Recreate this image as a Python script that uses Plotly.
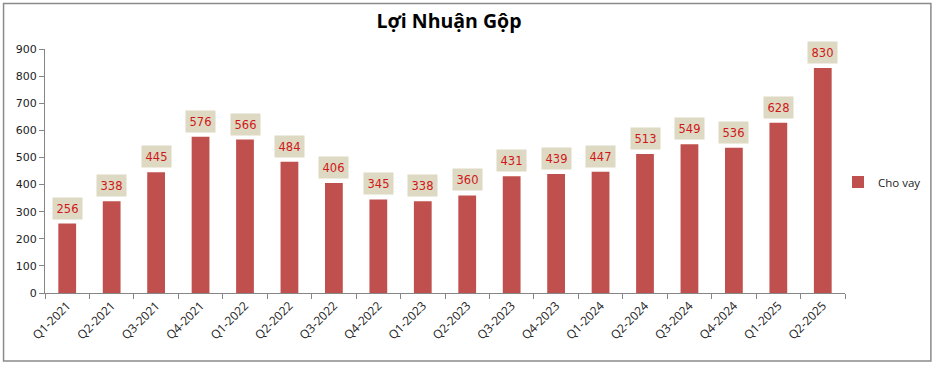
import plotly.graph_objects as go

categories = ["Q1-2021", "Q2-2021", "Q3-2021", "Q4-2021", "Q1-2022", "Q2-2022",
              "Q3-2022", "Q4-2022", "Q1-2023", "Q2-2023", "Q3-2023", "Q4-2023",
              "Q1-2024", "Q2-2024", "Q3-2024", "Q4-2024", "Q1-2025", "Q2-2025"]
cho_vay = [256, 338, 445, 576, 566, 484, 406, 345, 338, 360, 431, 439,
           447, 513, 549, 536, 628, 830]
y_ticks = [0, 100, 200, 300, 400, 500, 600, 700, 800, 900]
series_name = "Cho vay"
title_text = "Lợi Nhuận Gộp"

W, H = 937, 367
L, R, T, B = 45, 91, 49, 74
pw, ph = W - L - R, H - T - B

fig = go.Figure()
fig.add_trace(go.Bar(
    x=categories, y=cho_vay, name=series_name,
    marker=dict(color="#C0504D", line=dict(width=0)),
    hoverinfo="x+y",
))

for c, v in zip(categories, cho_vay):
    fig.add_annotation(
        x=c, y=v, text=str(v), showarrow=False,
        yanchor="bottom", yshift=4,
        bgcolor="#DDD9C3", borderpad=3.5,
        font=dict(family="DejaVu Sans", size=11.5, color="#D01818"),
    )

def px_x(p):
    return (p - L) / pw

def px_y(p):
    return (H - B - p) / ph

# outer chart border
fig.add_shape(type="rect", xref="paper", yref="paper",
              x0=px_x(3.5), x1=px_x(932), y0=px_y(361), y1=px_y(3.5),
              line=dict(color="#8A8A8A", width=1.5), layer="below")

fig.update_layout(
    width=W, height=H,
    margin=dict(l=L, r=R, t=T, b=B),
    paper_bgcolor="white", plot_bgcolor="white",
    title=dict(text=title_text, x=449 / W, xanchor="center",
               y=1 - 21 / H, yanchor="middle",
               font=dict(family="Open Sans", size=19.5, color="#000000", weight="bold")),
    bargap=0.6,
    showlegend=True,
    legend=dict(x=px_x(838), y=px_y(182), xanchor="left", yanchor="middle",
                font=dict(family="Open Sans", size=11.5, color="#222222"),
                bgcolor="rgba(0,0,0,0)"),
    xaxis=dict(
        type="category", tickson="boundaries", ticks="outside", ticklen=5,
        tickcolor="#868686", showline=True, linecolor="#868686", linewidth=1,
        tickangle=-45, showgrid=False,
        tickfont=dict(family="Open Sans", size=12, color="#222222"),
    ),
    yaxis=dict(
        range=[0, 900], tickvals=y_ticks, ticks="outside", ticklen=5,
        tickcolor="#868686", showline=True, linecolor="#868686", linewidth=1,
        showgrid=False, zeroline=False,
        tickfont=dict(family="DejaVu Sans", size=11, color="#222222"),
    ),
)

fig.write_html("out.html", config={"displayModeBar": False},
               post_script="document.body.style.margin='0';")
